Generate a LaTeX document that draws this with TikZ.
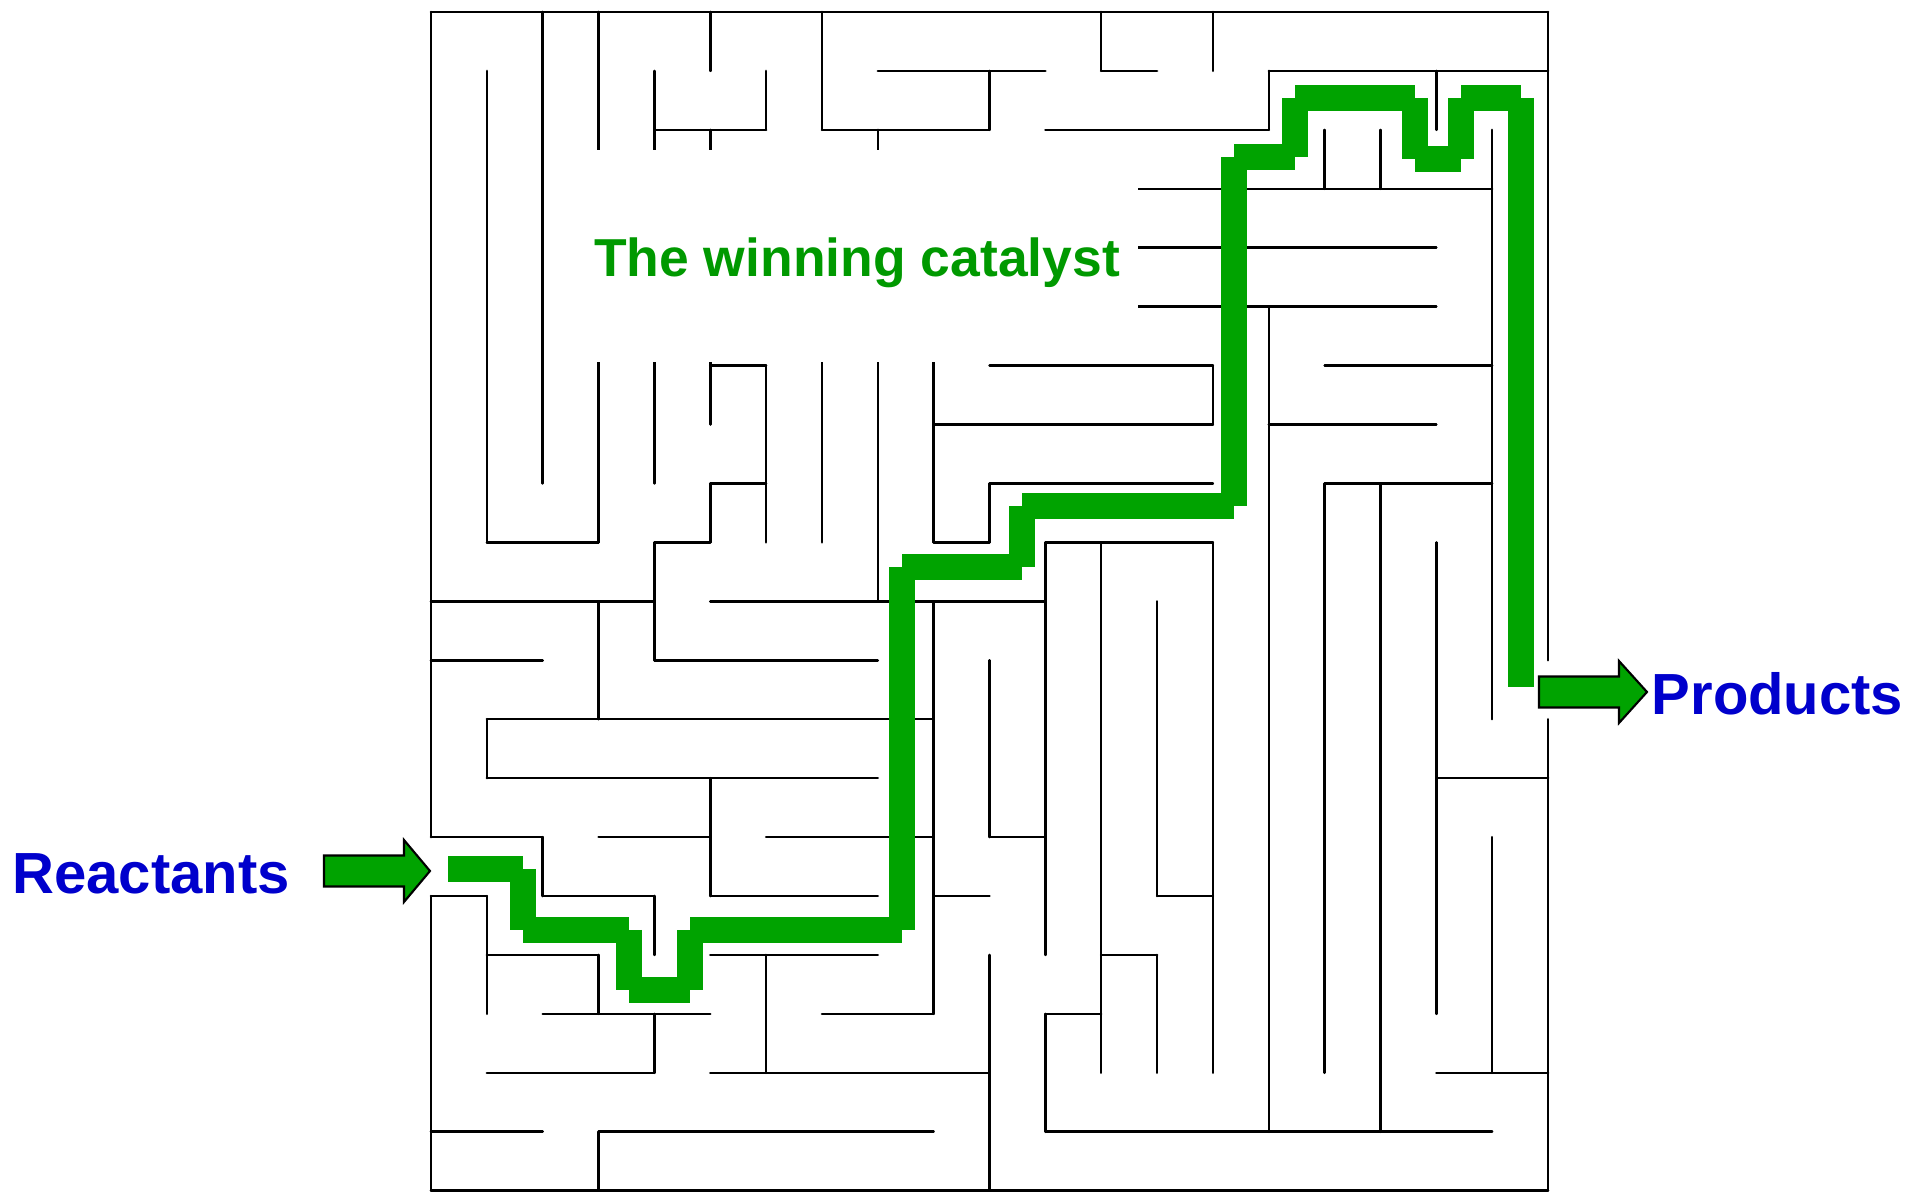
\documentclass[tikz,border=0pt]{standalone}
\usepackage{fontspec}
\setmainfont{Liberation Sans}
\definecolor{pathgreen}{RGB}{0,163,0}
\definecolor{textgreen}{RGB}{0,153,0}
\definecolor{labelblue}{RGB}{0,0,204}
\begin{document}
\begin{tikzpicture}[x=0.01cm, y=-0.01cm,
  wall/.style={line width=0.72pt, black, line cap=round},
  route/.style={pathgreen, line width=7.6pt, line cap=butt},
  blockarrow/.style={draw=black, fill=pathgreen, line width=0.6pt, line join=miter},
  sidelabel/.style={font=\fontsize{16.5}{19}\selectfont\bfseries, text=labelblue, inner sep=0pt, anchor=base},
  cattext/.style={font=\fontsize{15.2}{18}\selectfont\bfseries, text=textgreen, inner sep=0pt, anchor=base}]
\useasboundingbox (0,0) rectangle (1908,1195);
% maze walls in grid units
\begin{scope}[shift={(431,12)}, x=0.5582cm, y=-0.589cm]
  \foreach \j/\a/\b in {0/0/20, 1/8/11, 1/12/13, 1/15/20, 2/4/6, 2/7/10, 2/11/15,
    3/12.5/19, 4/12.5/18, 5/12.5/18, 6/5/6, 6/10/14, 6/16/19, 7/9/14, 7/15/18,
    8/5/6, 8/10/14, 8/16/19, 9/1/3, 9/4/5, 9/9/10, 9/11/14, 10/0/4, 10/5/11,
    11/0/2, 11/4/8, 12/1/9, 13/1/8, 13/18/20, 14/0/2, 14/3/5, 14/6/9, 14/10/11,
    15/0/1, 15/2/4, 15/5/8, 15/9/10, 15/13/14, 16/1/3, 16/5/8, 16/12/13,
    17/2/5, 17/7/9, 17/11/12, 18/1/4, 18/5/10, 18/18/20, 19/0/2, 19/3/9, 19/11/19, 20/0/20}
    \draw[wall] (\a,\j) -- (\b,\j);
  \foreach \i/\a/\b in {0/0/14, 0/15/20, 1/1/9, 1/12/13, 1/15/17, 2/0/8, 2/14/15,
    3/0/3, 3/5/9, 3/10/12, 3/16/17, 3/19/20, 4/1/3, 4/5/8, 4/9/11, 4/15/16, 4/17/18,
    5/0/1, 5/2/3, 5/5/7, 5/8/9, 5/13/15, 6/1/2, 6/6/9, 6/16/18, 7/0/2, 7/5/9,
    8/2/3, 8/5/10, 9/5/9, 9/10/17, 10/1/2, 10/8/9, 10/11/14, 10/16/20,
    11/9/16, 11/17/19, 12/0/1, 12/9/18, 13/10/15, 13/16/18, 14/0/1, 14/6/7, 14/9/18,
    15/1/2, 15/5/19, 16/2/3, 16/8/18, 17/2/3, 17/8/19, 18/1/2, 18/9/17,
    19/2/12, 19/14/18, 20/0/11, 20/12/20}
    \draw[wall] (\i,\a) -- (\i,\b);
\end{scope}
% white panel behind the caption
\fill[white] (590,150) rectangle (1138,362);
\node[cattext] (catalyst) at (857,276.7) {The winning catalyst};
% winning route: separate butt-capped segments give the notched corners
\draw[route] (448,869) -- (523,869) (523,869) -- (523,930) (523,930) -- (629,930)
  (629,930) -- (629,990) (629,990) -- (690,990) (690,990) -- (690,930)
  (690,930) -- (902,930) (902,930) -- (902,567) (902,567) -- (1022,567)
  (1022,567) -- (1022,506) (1022,506) -- (1234,506) (1234,506) -- (1234,157)
  (1234,157) -- (1295,157) (1295,157) -- (1295,98) (1295,98) -- (1415,98)
  (1415,98) -- (1415,159) (1415,159) -- (1461,159) (1461,159) -- (1461,98)
  (1461,98) -- (1521,98) (1521,98) -- (1521,687);
% block arrows
\draw[blockarrow] (324,855.5) -- (404,855.5) -- (404,840) -- (430,871) -- (404,902)
  -- (404,886.5) -- (324,886.5) -- cycle;
\draw[blockarrow] (1539,676.5) -- (1619,676.5) -- (1619,661) -- (1647,692) -- (1619,723)
  -- (1619,707.5) -- (1539,707.5) -- cycle;
% labels
\node[sidelabel] (reactants) at (151.2,894) {Reactants};
\node[sidelabel] (products) at (1777.5,715) {Products};
\end{tikzpicture}
\end{document}
